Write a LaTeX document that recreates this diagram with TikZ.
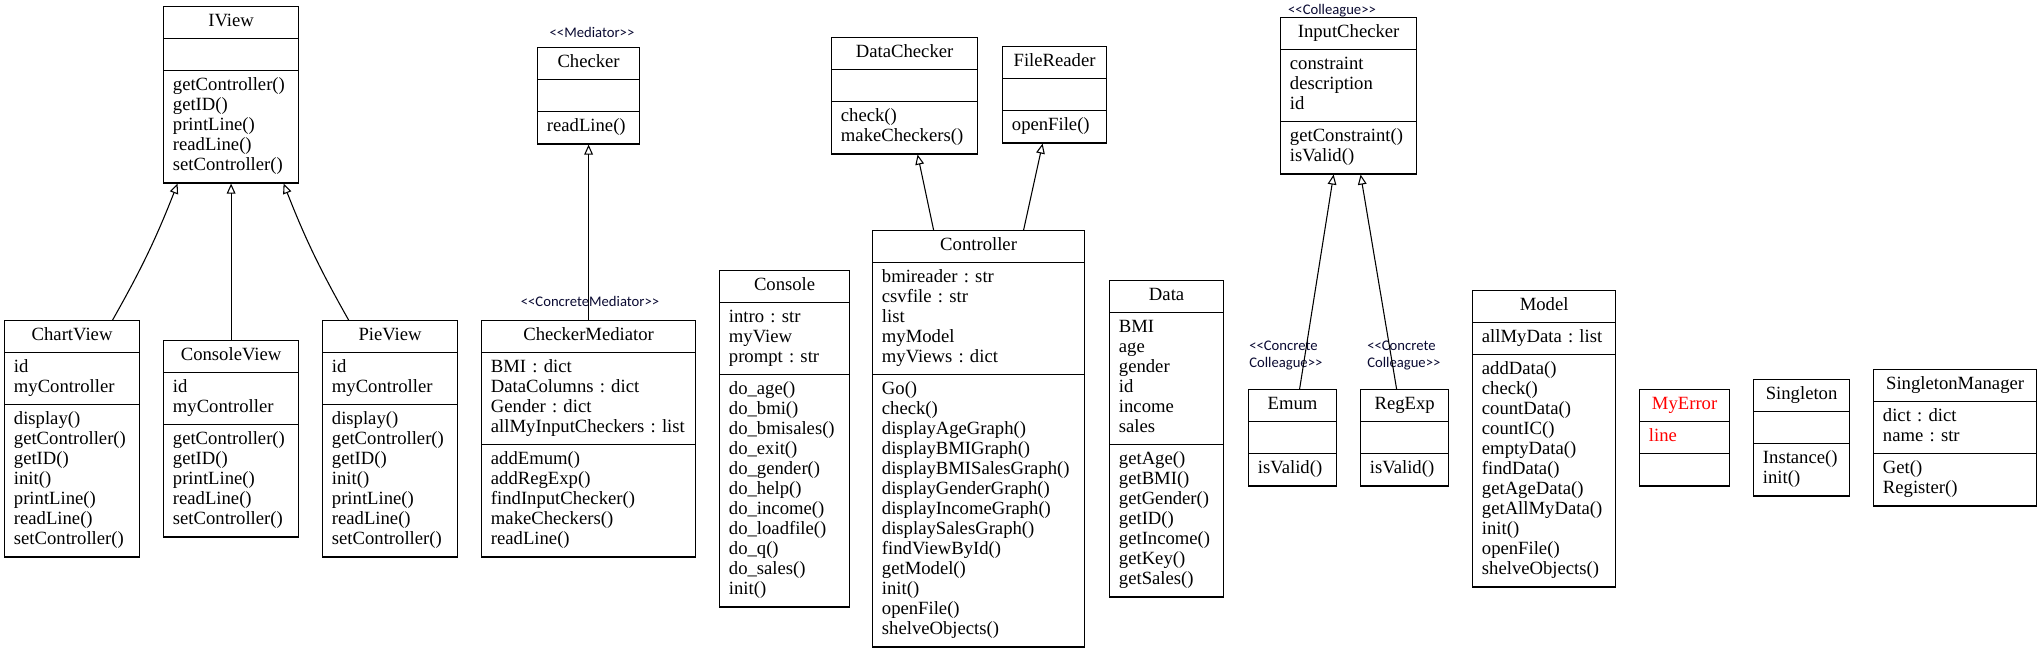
\documentclass[tikz,border=0pt]{standalone}
\usepackage{fontspec}
\setmainfont{Liberation Serif}
\newfontfamily\stereofont{Carlito}
\usetikzlibrary{shapes.multipart, arrows.meta, calc}
\definecolor{stereoblue}{RGB}{10,10,50}
\tikzstyle{umlclass}=[rectangle split, rectangle split parts=3, draw, line width=0.9pt, anchor=north west, align=left, inner xsep=7pt, inner ysep=4.1pt, font=\fontsize{14}{15}\selectfont\frenchspacing]
\tikzstyle{stereo}=[inner sep=0, text=stereoblue, align=left, font=\stereofont\fontsize{11}{13}\selectfont]
\tikzstyle{inherit}=[line width=0.8pt, -{Triangle[open, length=7.5pt, width=6.5pt]}]
\newcommand{\cname}[1]{\makebox[\linewidth][c]{\strut #1}}
\newcommand{\st}[1]{<\kern0pt<#1>\kern0pt>}

\begin{document}
\begin{tikzpicture}[x=0.75pt, y=-0.75pt]
\useasboundingbox (0,0) rectangle (2041,648);

% views
\node[umlclass, text width=87.25pt] (iview) at (163,6) {\cname{IView}
  \nodepart{second}\strut
  \nodepart{third}\strut getController()\\getID()\\printLine()\\readLine()\\setController()\strut};
\node[umlclass, text width=87.25pt] (chartview) at (4,320) {\cname{ChartView}
  \nodepart{second}\strut id\\myController\strut
  \nodepart{third}\strut display()\\getController()\\getID()\\init()\\printLine()\\readLine()\\setController()\strut};
\node[umlclass, text width=87.25pt] (consoleview) at (163,340) {\cname{ConsoleView}
  \nodepart{second}\strut id\\myController\strut
  \nodepart{third}\strut getController()\\getID()\\printLine()\\readLine()\\setController()\strut};
\node[umlclass, text width=87.25pt] (pieview) at (322,320) {\cname{PieView}
  \nodepart{second}\strut id\\myController\strut
  \nodepart{third}\strut display()\\getController()\\getID()\\init()\\printLine()\\readLine()\\setController()\strut};

% mediator
\node[umlclass, text width=62.5pt] (checker) at (537,47) {\cname{Checker}
  \nodepart{second}\strut
  \nodepart{third}\strut readLine()\strut};
\node[stereo, anchor=base] (checkerst) at (592,37.5) {\st{Mediator}};
\node[umlclass, text width=146.5pt] (checkermed) at (481,320) {\cname{CheckerMediator}
  \nodepart{second}\strut BMI : dict\\DataColumns : dict\\Gender : dict\\allMyInputCheckers : list\strut
  \nodepart{third}\strut addEmum()\\addRegExp()\\findInputChecker()\\makeCheckers()\\readLine()\strut};
\node[stereo, anchor=base] (checkermedst) at (590,307) {\st{ConcreteMediator}};

\node[umlclass, text width=83.5pt] (console) at (719,270) {\cname{Console}
  \nodepart{second}\strut intro : str\\myView\\prompt : str\strut
  \nodepart{third}\strut do\_age()\\do\_bmi()\\do\_bmisales()\\do\_exit()\\do\_gender()\\do\_help()\\do\_income()\\do\_loadfile()\\do\_q()\\do\_sales()\\init()\strut};

% controller
\node[umlclass, text width=95.5pt] (datachecker) at (831,37) {\cname{DataChecker}
  \nodepart{second}\strut
  \nodepart{third}\strut check()\\makeCheckers()\strut};
\node[umlclass, text width=64pt] (filereader) at (1002,46) {\cname{FileReader}
  \nodepart{second}\strut
  \nodepart{third}\strut openFile()\strut};
\node[umlclass, text width=145pt] (controller) at (872,230) {\cname{Controller}
  \nodepart{second}\strut bmireader : str\\csvfile : str\\list\\myModel\\myViews : dict\strut
  \nodepart{third}\strut Go()\\check()\\displayAgeGraph()\\displayBMIGraph()\\displayBMISalesGraph()\\displayGenderGraph()\\displayIncomeGraph()\\displaySalesGraph()\\findViewById()\\getModel()\\init()\\openFile()\\shelveObjects()\strut};
\node[umlclass, text width=71.5pt] (data) at (1109,280) {\cname{Data}
  \nodepart{second}\strut BMI\\age\\gender\\id\\income\\sales\strut
  \nodepart{third}\strut getAge()\\getBMI()\\getGender()\\getID()\\getIncome()\\getKey()\\getSales()\strut};

% colleagues
\node[umlclass, text width=88pt] (inputchecker) at (1280,17) {\cname{InputChecker}
  \nodepart{second}\strut constraint\\description\\id\strut
  \nodepart{third}\strut getConstraint()\\isValid()\strut};
\node[stereo, anchor=base] (inputcheckerst) at (1332,15) {\st{Colleague}};
\node[umlclass, text width=52pt] (emum) at (1248,389) {\cname{Emum}
  \nodepart{second}\strut
  \nodepart{third}\strut isValid()\strut};
\node[stereo, anchor=north west] (emumst) at (1249,340.5) {\st{Concrete\\Colleague}};
\node[umlclass, text width=52pt] (regexp) at (1360,389) {\cname{RegExp}
  \nodepart{second}\strut
  \nodepart{third}\strut isValid()\strut};
\node[stereo, anchor=north west] (regexpst) at (1367,340.5) {\st{Concrete\\Colleague}};

% the rest
\node[umlclass, text width=93.25pt] (model) at (1472,290) {\cname{Model}
  \nodepart{second}\strut allMyData : list\strut
  \nodepart{third}\strut addData()\\check()\\countData()\\countIC()\\emptyData()\\findData()\\getAgeData()\\getAllMyData()\\init()\\openFile()\\shelveObjects()\strut};
\node[umlclass, text width=53.5pt] (myerror) at (1639,389) {\cname{\color{red}MyError}
  \nodepart{second}\color{red}\strut line\strut
  \nodepart{third}\strut};
\node[umlclass, text width=58pt] (singleton) at (1753,379) {\cname{Singleton}
  \nodepart{second}\strut
  \nodepart{third}\strut Instance()\\init()\strut};
\node[umlclass, text width=108.25pt] (singletonman) at (1873,369) {\cname{SingletonManager}
  \nodepart{second}\strut dict : dict\\name : str\strut
  \nodepart{third}\strut Get()\\Register()\strut};

% inheritance
\draw[inherit] ($(chartview.north)+(40.5,0)$) to[bend right=4] ($(iview.south)+(-53.5,0)$);
\draw[inherit] (consoleview.north) -- (iview.south);
\draw[inherit] ($(pieview.north)+(-41.5,0)$) to[bend left=4] ($(iview.south)+(52.5,0)$);
\draw[inherit] (checkermed.north) -- (checker.south);
\draw[inherit] ($(controller.north)+(-45,0)$) -- ($(datachecker.south)+(13,0)$);
\draw[inherit] ($(controller.north)+(45,0)$) -- ($(filereader.south)+(-12,0)$);
\draw[inherit] ($(emum.north)+(7,0)$) -- ($(inputchecker.south)+(-15,0)$);
\draw[inherit] ($(regexp.north)+(-8,0)$) -- ($(inputchecker.south)+(12,0)$);

\end{tikzpicture}
\end{document}
